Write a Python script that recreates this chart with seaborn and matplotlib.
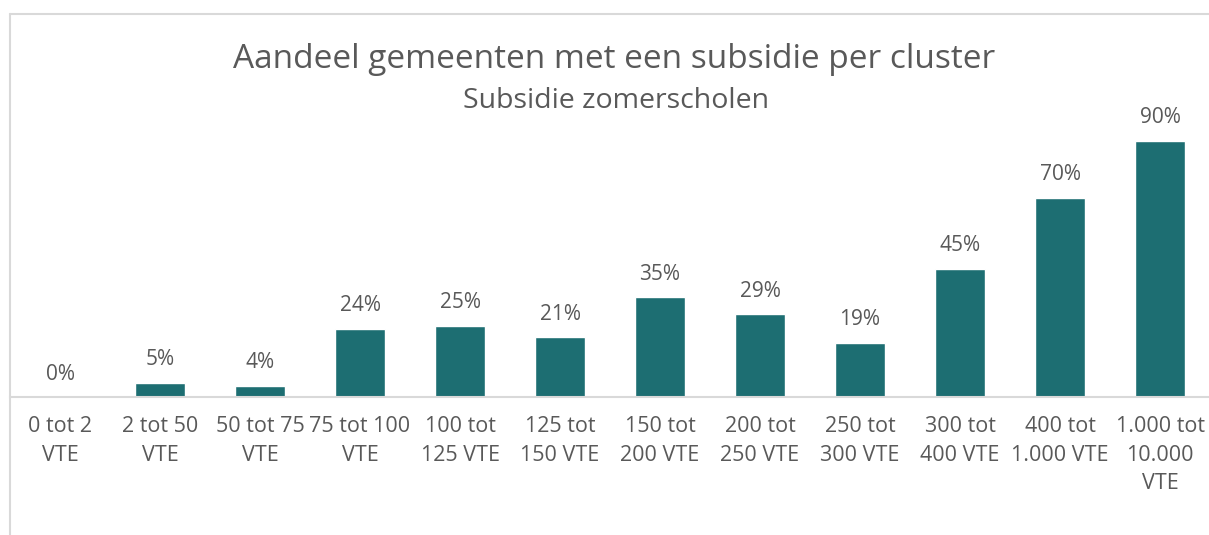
import matplotlib
matplotlib.use('Agg')
import matplotlib.pyplot as plt
import seaborn as sns
import pandas as pd
from matplotlib.lines import Line2D

clusters = ['0 tot 2\nVTE', '2 tot 50\nVTE', '50 tot 75\nVTE', '75 tot 100\nVTE',
            '100 tot\n125 VTE', '125 tot\n150 VTE', '150 tot\n200 VTE', '200 tot\n250 VTE',
            '250 tot\n300 VTE', '300 tot\n400 VTE', '400 tot\n1.000 VTE', '1.000 tot\n10.000\nVTE']
share = [0, 5, 4, 24, 25, 21, 35, 29, 19, 45, 70, 90]

title = 'Aandeel gemeenten met een subsidie per cluster'
subtitle = 'Subsidie zomerscholen'

sns.set_style('white')
plt.rcParams['font.family'] = ['Open Sans', 'DejaVu Sans']
grey = '#595959'
teal = '#1d6e72'

df = pd.DataFrame({'cluster': clusters, 'share': share})

W, H = 1209, 535
fig = plt.figure(figsize=(W / 100, H / 100), dpi=100)
ax = fig.add_axes([10 / W, (H - 397) / H, 1200 / W, 383 / H])

sns.barplot(data=df, x='cluster', y='share', color=teal, width=0.5, ax=ax,
            saturation=1)
ax.set_xlim(-0.5, 11.5)
ax.set_ylim(0, 134.5)

for i, v in enumerate(share):
    ax.annotate('%d%%' % v, (i, v), xytext=(0, 9), textcoords='offset points',
                ha='center', va='bottom', fontsize=15, color=grey)

ax.set_xlabel('')
ax.set_ylabel('')
ax.set_yticks([])
ax.tick_params(axis='x', length=0, pad=14, labelsize=15.5, labelcolor=grey)
for lbl in ax.get_xticklabels():
    lbl.set_linespacing(1.45)
    lbl.set_va('top')
for s in ['top', 'right', 'left']:
    ax.spines[s].set_visible(False)
ax.spines['bottom'].set_color('#d9d9d9')
ax.spines['bottom'].set_linewidth(1.5)

fig.text(614 / W, 1 - 60 / H, title, ha='center', va='center', fontsize=24, color=grey)
fig.text(616 / W, 1 - 101 / H, subtitle, ha='center', va='center', fontsize=20.5, color=grey)

# frame of the chart area
fig.add_artist(Line2D([10 / W, 1], [1 - 14 / H] * 2, color='#d9d9d9', lw=1.5,
                      transform=fig.transFigure))
fig.add_artist(Line2D([10 / W] * 2, [0, 1 - 14 / H], color='#d9d9d9', lw=1.5,
                      transform=fig.transFigure))

fig.savefig('out.png', dpi=100)
